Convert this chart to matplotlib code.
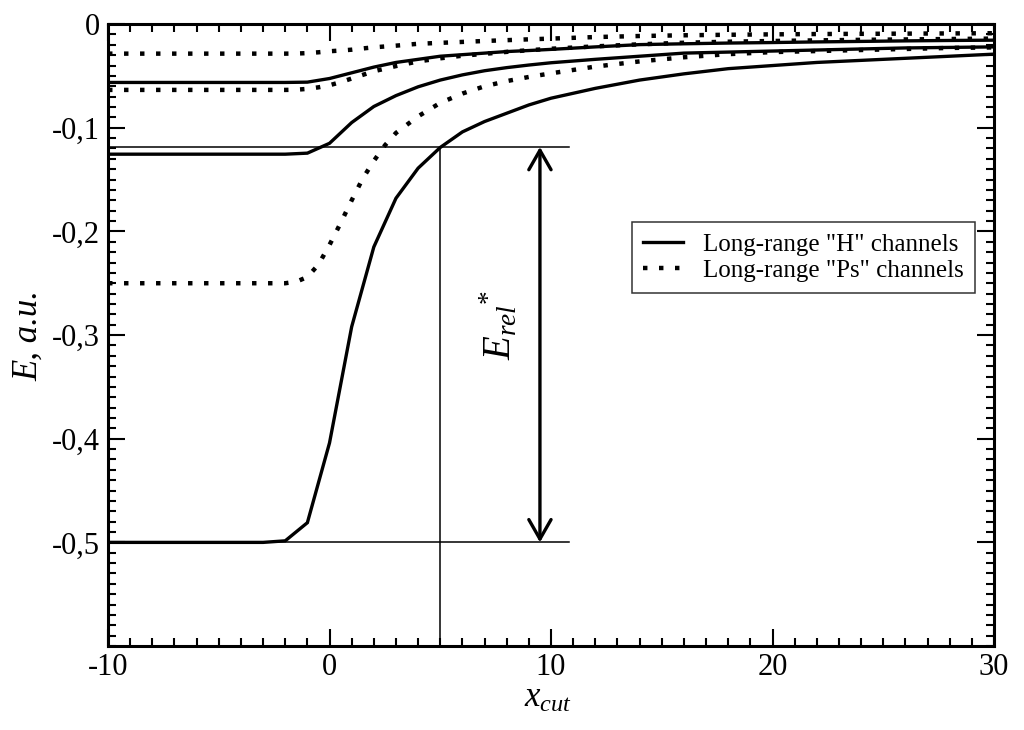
import numpy as np
import matplotlib
matplotlib.use("Agg")
import matplotlib.pyplot as plt
from matplotlib.ticker import FixedLocator, MultipleLocator, FixedFormatter

plt.rcParams['font.family'] = ['Liberation Serif', 'DejaVu Serif']
plt.rcParams['mathtext.fontset'] = 'custom'
plt.rcParams['mathtext.it'] = 'Liberation Serif:italic'
plt.rcParams['mathtext.rm'] = 'Liberation Serif'
plt.rcParams['axes.unicode_minus'] = False

################################################################################
# data

x_cut = [-10, -9, -8, -7, -6, -5, -4, -3, -2, -1, 0, 1, 2, 3, 4, 5, 6, 7, 8, 9, 10,
         12, 14, 16, 18, 20, 22, 24, 26, 28, 30]

# long-range "H" channels (n = 1, 2, 3)
h_n1 = [-0.5, -0.5, -0.5, -0.5, -0.5, -0.5, -0.5, -0.5, -0.4985, -0.481, -0.404,
        -0.292, -0.215, -0.168, -0.139, -0.119, -0.104, -0.094, -0.086, -0.078, -0.0715,
        -0.062, -0.054, -0.048, -0.043, -0.040, -0.037, -0.035, -0.033, -0.031, -0.029]
h_n2 = [-0.1255, -0.1255, -0.1255, -0.1255, -0.1255, -0.1255, -0.1255, -0.1255, -0.1255, -0.1245, -0.115,
        -0.095, -0.0795, -0.069, -0.0605, -0.054, -0.049, -0.045, -0.042, -0.0395, -0.0373,
        -0.034, -0.031, -0.028, -0.027, -0.026, -0.025, -0.024, -0.023, -0.0225, -0.022]
h_n3 = [-0.0563, -0.0563, -0.0563, -0.0563, -0.0563, -0.0563, -0.0563, -0.0563, -0.0563, -0.056, -0.0525,
        -0.047, -0.0415, -0.037, -0.034, -0.031, -0.0295, -0.028, -0.0265, -0.0255, -0.0244,
        -0.022, -0.0198, -0.019, -0.0183, -0.0178, -0.0172, -0.0167, -0.0162, -0.0158, -0.0155]

# long-range "Ps" channels (n = 1, 2, 3), a little denser where they bend
x_ps = [-10, -8, -6, -4, -2, -1.5, -1, -0.5, 0, 0.5, 1, 1.5, 2, 2.5, 3, 4, 5, 6, 7, 8, 9, 10,
        12, 14, 16, 18, 20, 22, 24, 26, 28, 30]
ps_n1 = [-0.25, -0.25, -0.25, -0.25, -0.25, -0.2485, -0.244, -0.232, -0.213, -0.192, -0.170,
         -0.149, -0.132, -0.117, -0.105, -0.089, -0.076, -0.067, -0.060, -0.055, -0.051, -0.0475,
         -0.041, -0.036, -0.032, -0.029, -0.027, -0.026, -0.025, -0.024, -0.023, -0.0225]
ps_n2 = [-0.0635, -0.0635, -0.0635, -0.0635, -0.0635, -0.0633, -0.0625, -0.061, -0.059, -0.056, -0.0525,
         -0.049, -0.0455, -0.043, -0.0405, -0.036, -0.033, -0.0305, -0.0287, -0.0268, -0.0252, -0.0238,
         -0.0215, -0.0195, -0.018, -0.017, -0.0163, -0.0157, -0.0152, -0.0148, -0.0144, -0.014]
ps_n3 = [-0.0285, -0.0285, -0.0285, -0.0285, -0.0285, -0.0284, -0.028, -0.0272, -0.0262, -0.0255, -0.0247,
         -0.0235, -0.0224, -0.0216, -0.0208, -0.019, -0.0181, -0.0172, -0.0163, -0.0155, -0.0147, -0.014,
         -0.0125, -0.0115, -0.0108, -0.0103, -0.0099, -0.0096, -0.0094, -0.0092, -0.009, -0.0088]

e_top = -0.1185      # level where the n=1 "H" curve is cut
e_bottom = -0.5
x_mark = 5
x_arrow = 9.5
x_line_end = 10.8

y_ticks = [-0.5, -0.4, -0.3, -0.2, -0.1, 0]
y_labels = ['-0,5', '-0,4', '-0,3', '-0,2', '-0,1', '0']

################################################################################

fig = plt.figure(figsize=(10.24, 7.3), dpi=100)
ax = fig.add_axes([0.1055, 0.115, 0.8652, 0.852])

dots = (0, (1, 2.6))
for e in (h_n1, h_n2, h_n3):
    ax.plot(x_cut, e, color='black', lw=2.4, solid_joinstyle='miter')
for e in (ps_n1, ps_n2, ps_n3):
    ax.plot(x_ps, e, color='black', lw=3.2, linestyle=dots, dash_capstyle='butt')

# legend proxies
ax.plot([], [], color='black', lw=2.4, label='Long-range "H" channels')
ax.plot([], [], color='black', lw=3.2, linestyle=dots, label='Long-range "Ps" channels')

# E*_rel construction
ax.plot([-10, x_line_end], [e_top, e_top], color='black', lw=1.1)
ax.plot([-10, x_line_end], [e_bottom, e_bottom], color='black', lw=1.1)
ax.plot([x_mark, x_mark], [e_top, -0.6], color='black', lw=1.1)
ax.annotate('', xy=(x_arrow, e_bottom), xytext=(x_arrow, e_top),
            arrowprops=dict(arrowstyle='<->,head_length=0.7,head_width=0.4',
                            lw=2.4, color='black', shrinkA=0, shrinkB=0,
                            mutation_scale=20))
ax.text(7.7, -0.29, r'$E_{rel}{}^{*}$', rotation=90, fontsize=28,
        ha='center', va='center')

ax.set_xlim(-10, 30)
ax.set_ylim(-0.6, 0)

ax.xaxis.set_major_locator(MultipleLocator(10))
ax.xaxis.set_minor_locator(MultipleLocator(1))
ax.yaxis.set_major_locator(FixedLocator(y_ticks))
ax.yaxis.set_major_formatter(FixedFormatter(y_labels))
ax.yaxis.set_minor_locator(MultipleLocator(0.01))

ax.tick_params(which='both', direction='in', top=True, right=True, width=1.5)
ax.tick_params(which='major', length=12, labelsize=22)
ax.tick_params(axis='y', which='major', pad=6)
ax.tick_params(axis='x', which='major', pad=5)
ax.tick_params(which='minor', length=6)
for s in ax.spines.values():
    s.set_linewidth(2.2)

ax.set_xlabel(r'$x_{cut}$', fontsize=25)
ax.set_ylabel('E, a.u.', fontsize=25, fontstyle='italic')
ax.yaxis.set_label_coords(-0.071, 0.5)
ax.xaxis.set_label_coords(0.497, -0.058)

leg = ax.legend(loc='upper left', bbox_to_anchor=(0.591, 0.682), fontsize=18,
                frameon=True, fancybox=False, handlelength=1.6, borderpad=0.45,
                labelspacing=0.15, handletextpad=0.8, borderaxespad=0)
leg.get_frame().set_edgecolor('black')
leg.get_frame().set_linewidth(1.1)

fig.savefig('out.png', dpi=100)
